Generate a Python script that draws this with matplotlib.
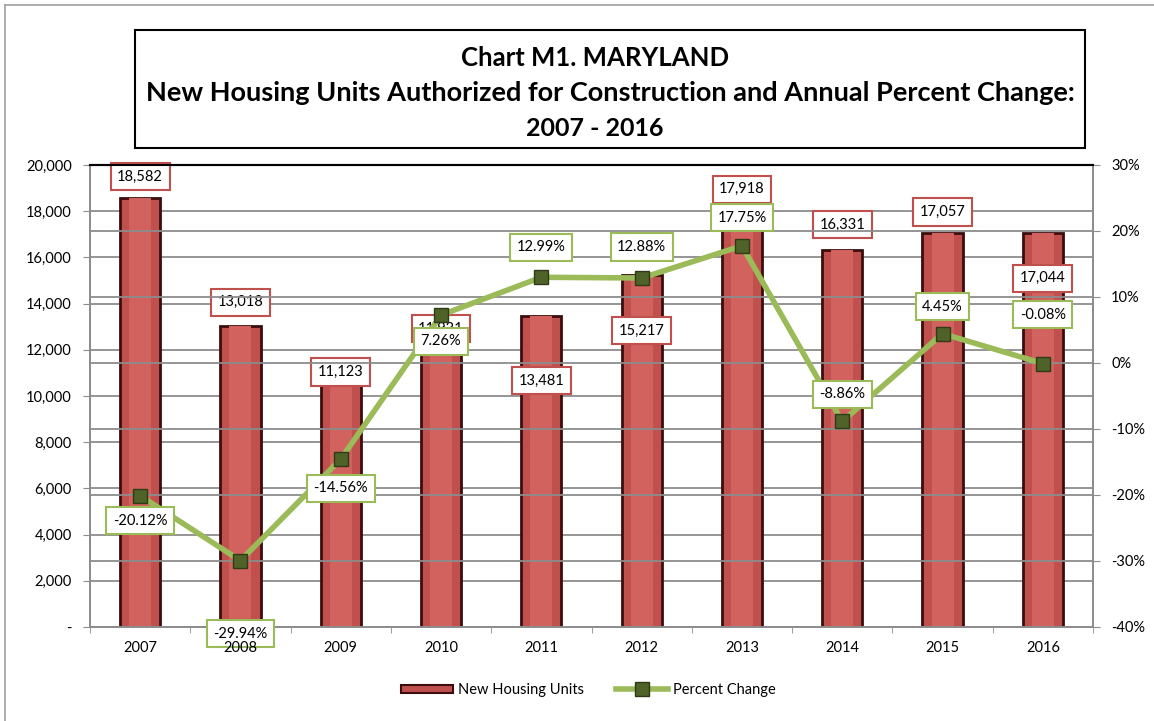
import matplotlib.pyplot as plt
from matplotlib.patches import Rectangle
from matplotlib.lines import Line2D
from matplotlib.ticker import FuncFormatter, MultipleLocator
import numpy as np

plt.rcParams["font.family"] = ["Lato", "DejaVu Sans"]

years = ["2007", "2008", "2009", "2010", "2011", "2012", "2013", "2014", "2015", "2016"]
units = [18582, 13018, 11123, 11931, 13481, 15217, 17918, 16331, 17057, 17044]
pct = [-20.12, -29.94, -14.56, 7.26, 12.99, 12.88, 17.75, -8.86, 4.45, -0.08]

# label offsets in pixels (placement only)
unit_off = [21, 24, -2, 23, -65, -55, 24, 25, 21, -45]
pct_off = [-25, -73, -29, -26, 30, 31, 28, 27, 27, 49]

red = "#C0504D"
green = "#9BBB59"
grid = "#8C8C8C"

fig = plt.figure(figsize=(11.54, 7.21), dpi=100)
ax = fig.add_axes([90 / 1154, 1 - 627 / 721, (1093 - 90) / 1154, (627 - 165) / 721])
ax2 = ax.twinx()

x = np.arange(len(years))

ax.set_xlim(-0.5, 9.5)
ax.set_ylim(0, 20000)
ax2.set_ylim(-40, 30)
ax.yaxis.set_major_locator(MultipleLocator(2000))
ax2.yaxis.set_major_locator(MultipleLocator(10))

# gridlines for both axes
for v in np.arange(2000, 20000, 2000):
    ax.axhline(v, color=grid, lw=1.3, zorder=0)
for v in np.arange(-30, 30, 10):
    ax2.axhline(v, color=grid, lw=1.3, zorder=0)

# bars with a simple bevel look
ax.bar(x, units, width=0.4, color=red, edgecolor="#3b0d0c", linewidth=2, zorder=2)
ax.bar(x, units, width=0.22, color="#D2625E", linewidth=0, zorder=2.1)

ax.set_zorder(1)
ax2.set_zorder(2)
ax.patch.set_visible(False)

for xi, u, o in zip(x, units, unit_off):
    ax.annotate(f"{u:,}", (xi, u), xytext=(0, o), textcoords="offset pixels",
                ha="center", va="center", fontsize=10.5, zorder=5,
                bbox=dict(boxstyle="square,pad=0.45", fc="white", ec=red, lw=1.5))

ax2.plot(x, pct, color=green, lw=4, marker="s", ms=10, mfc="#4F6228",
         mec="#2f3b17", mew=1, zorder=3)

for xi, p, o in zip(x, pct, pct_off):
    ax2.annotate(f"{p:.2f}%", (xi, p), xytext=(0, o), textcoords="offset pixels",
                 ha="center", va="center", fontsize=10.5, zorder=6,
                 bbox=dict(boxstyle="square,pad=0.45", fc="white", ec=green, lw=1.5))

# category labels drawn on the top axes so they sit above the label boxes
ax.tick_params(axis="x", which="both", labelbottom=False, length=0)
ax2.xaxis.set_visible(True)
ax2.xaxis.set_zorder(7)
ax2.set_xticks(x)
ax2.set_xticklabels(years, fontsize=10.5)
ax2.set_xticks(np.arange(-0.5, 10, 1), minor=True)
ax2.tick_params(axis="x", which="major", length=0, pad=10)
ax2.tick_params(axis="x", which="minor", length=4, color=grid, direction="out")

ax.yaxis.set_major_formatter(FuncFormatter(lambda v, _: "-" if v == 0 else f"{v:,.0f}"))
ax2.yaxis.set_major_formatter(FuncFormatter(lambda v, _: f"{v:.0f}%"))
ax.tick_params(axis="y", labelsize=10.5, length=5, color=grid, pad=8)
ax2.tick_params(axis="y", labelsize=10.5, length=5, color=grid, pad=8)

for a in (ax, ax2):
    for s in ("left", "right", "bottom"):
        a.spines[s].set_color(grid)
        a.spines[s].set_linewidth(1.3)
    a.spines["top"].set_color("black")
    a.spines["top"].set_linewidth(1.5)

# title box
fig.patches.append(Rectangle((135 / 1154, 1 - 148 / 721), 950 / 1154, 118 / 721,
                             transform=fig.transFigure, fc="white", ec="black", lw=1.5))
fig.text(595 / 1154, 1 - 58 / 721, "Chart M1. MARYLAND", ha="center", va="center",
         fontsize=18.5, fontweight="bold")
fig.text(610 / 1154, 1 - 93 / 721,
         "New Housing Units Authorized for Construction and Annual Percent Change:",
         ha="center", va="center", fontsize=19.5, fontweight="bold")
fig.text(595 / 1154, 1 - 128 / 721, "2007 - 2016", ha="center", va="center",
         fontsize=18, fontweight="bold")

# outer chart border (left and top visible)
fig.add_artist(Line2D([5 / 1154, 5 / 1154], [0, 1 - 5 / 721], transform=fig.transFigure,
                      color="#A0A0A0", lw=1.2))
fig.add_artist(Line2D([5 / 1154, 1], [1 - 5 / 721, 1 - 5 / 721], transform=fig.transFigure,
                      color="#A0A0A0", lw=1.2))

handles = [
    Rectangle((0, 0), 1, 1, fc=red, ec="#3b0d0c", lw=1.5),
    Line2D([], [], color=green, lw=4, marker="s", ms=10, mfc="#4F6228", mec="#2f3b17"),
]
fig.legend(handles, ["New Housing Units", "Percent Change"], loc="center",
           bbox_to_anchor=(588 / 1154, 1 - 690 / 721), ncol=2, frameon=False,
           fontsize=10.5, handlelength=3.6, columnspacing=2.2, handletextpad=0.3,
           handleheight=0.5)

plt.savefig("out.png", dpi=100)
